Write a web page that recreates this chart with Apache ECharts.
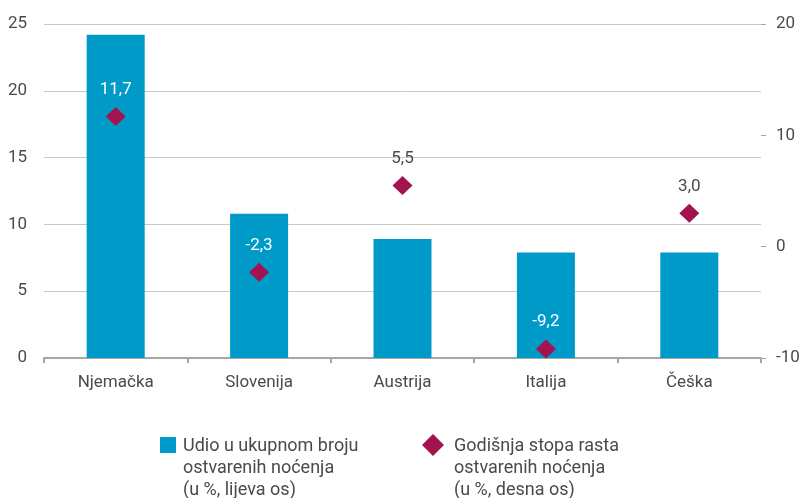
<!DOCTYPE html>
<html>
<head>
<meta charset="utf-8">
<script src="https://cdn.jsdelivr.net/npm/echarts@6/dist/echarts.min.js"></script>
<style>
    html, body { margin: 0; padding: 0; background: #fff; }
    #chart { width: 805px; height: 498px; }
</style>
</head>
<body>
<div id="chart"></div>
<script>
// udio noćenja po zemljama (lijeva os) i godišnja stopa rasta (desna os)
const zemlje = ['Njemačka', 'Slovenija', 'Austrija', 'Italija', 'Češka'];
const udio = [24.2, 10.8, 8.9, 7.9, 7.9];
const stopaRasta = [11.7, -2.3, 5.5, -9.2, 3.0];
const lijevaOsTicks = [0, 5, 10, 15, 20, 25];
const desnaOsTicks = [-10, 0, 10, 20];

const BAR_NAME = 'Udio u ukupnom broju\nostvarenih noćenja\n(u %, lijeva os)';
const DOT_NAME = 'Godišnja stopa rasta\nostvarenih noćenja\n(u %, desna os)';
const FONT = 'Roboto';
const TEXT = '#4a4a4a';

// labele koje padaju unutar stupca su bijele
const insideBar = (i) => {
    const yPx = 358 - (stopaRasta[i] + 10) * (334 / 30);
    const barTop = 358 - udio[i] * (334 / 25);
    return yPx - 28 > barTop;
};

// ikone legende: nevidljiva točka dolje desno produži okvir,
// pa ikona stoji uz prvi redak teksta (a ne u sredini)
const ICON_SQUARE = 'path://M0,0L16,0L16,16L0,16Z M18,62';
const ICON_DIAMOND = 'path://M11,0L22,11L11,22L0,11Z M27,68';

const legendText = {
    fontFamily: FONT, fontSize: 18, color: TEXT, lineHeight: 22
};

const chart = echarts.init(document.getElementById('chart'));
chart.setOption({
    animation: false,
    textStyle: { fontFamily: FONT },
    grid: { left: 44, right: 44, top: 24, bottom: 140 },
    legend: [
        {
            data: [{ name: BAR_NAME, icon: ICON_SQUARE }],
            left: 160, top: 435, padding: 0,
            itemWidth: 18, itemHeight: 62,
            textStyle: legendText
        },
        {
            data: [{ name: DOT_NAME, icon: ICON_DIAMOND }],
            left: 422, top: 434, padding: 0,
            itemWidth: 27, itemHeight: 68,
            textStyle: legendText
        }
    ],
    xAxis: {
        type: 'category',
        data: zemlje,
        axisLine: { lineStyle: { color: '#a6a6a6', width: 2 } },
        axisTick: { show: true, length: 5, lineStyle: { color: '#a6a6a6', width: 2 } },
        axisLabel: { fontFamily: FONT, fontSize: 17, color: TEXT, margin: 16 }
    },
    yAxis: [
        {
            type: 'value',
            min: lijevaOsTicks[0],
            max: lijevaOsTicks[lijevaOsTicks.length - 1],
            interval: 5,
            axisLine: { show: false },
            axisTick: { show: false },
            splitLine: { lineStyle: { color: '#c8c8c8', width: 1 } },
            axisLabel: { fontFamily: FONT, fontSize: 17, color: TEXT, margin: 17 }
        },
        {
            type: 'value',
            min: desnaOsTicks[0],
            max: desnaOsTicks[desnaOsTicks.length - 1],
            interval: 10,
            position: 'right',
            axisLine: { show: false },
            axisTick: { show: true, length: 5, lineStyle: { color: '#a6a6a6' } },
            splitLine: { show: false },
            axisLabel: { fontFamily: FONT, fontSize: 17, color: TEXT, margin: 15 }
        }
    ],
    series: [
        {
            name: BAR_NAME,
            type: 'bar',
            yAxisIndex: 0,
            barWidth: 58,
            itemStyle: { color: '#009ac9' },
            data: udio
        },
        {
            name: DOT_NAME,
            type: 'scatter',
            yAxisIndex: 1,
            symbol: 'diamond',
            symbolSize: [20, 19],
            itemStyle: { color: '#a1144f', opacity: 1 },
            z: 5,
            label: {
                show: true,
                position: 'top',
                distance: 9,
                fontFamily: FONT,
                fontSize: 17,
                formatter: p => p.value.toFixed(1).replace('.', ',')
            },
            data: stopaRasta.map((v, i) => ({
                value: v,
                label: { color: insideBar(i) ? '#ffffff' : TEXT }
            }))
        }
    ]
});
</script>
</body>
</html>
